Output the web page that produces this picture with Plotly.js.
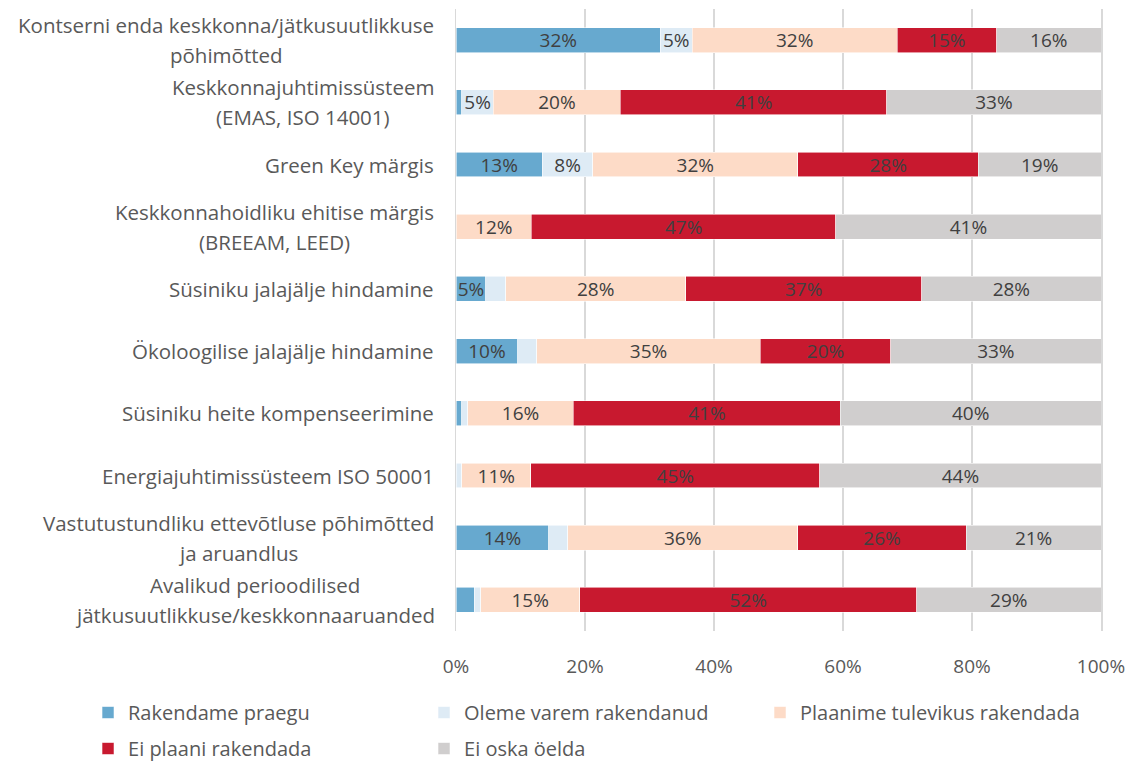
<!DOCTYPE html>
<html>
<head>
<meta charset="utf-8">
<script src="https://cdn.plot.ly/plotly-3.0.1.min.js"></script>
<style>html,body{margin:0;padding:0;background:#fff;}#chart{width:1137px;height:762px;}</style>
</head>
<body>
<div id="chart"></div>
<script>
const categories = [
  "Kontserni enda keskkonna/jätkusuutlikkuse<br>põhimõtted",
  "Keskkonnajuhtimissüsteem<br>(EMAS, ISO 14001)",
  "Green Key märgis",
  "Keskkonnahoidliku ehitise märgis<br>(BREEAM, LEED)",
  "Süsiniku jalajälje hindamine",
  "Ökoloogilise jalajälje hindamine",
  "Süsiniku heite kompenseerimine",
  "Energiajuhtimissüsteem ISO 50001",
  "Vastutustundliku ettevõtluse põhimõtted<br>ja aruandlus",
  "Avalikud perioodilised<br>jätkusuutlikkuse/keskkonnaaruanded"
];
const seriesNames = ["Rakendame praegu", "Oleme varem rakendanud", "Plaanime tulevikus rakendada", "Ei plaani rakendada", "Ei oska öelda"];
const rakendamePraegu   = [31.7, 0.9, 13.4, 0,    4.65, 9.6,  0.9,  0,    14.4, 2.8];
const olemeVaremRak     = [4.9,  4.9, 7.8,  0,    3.05, 2.9,  0.9,  0.9,  2.9,  1.0];
const plaanimeTulevikus = [31.8, 19.7, 31.8, 11.7, 27.9, 34.7, 16.4, 10.7, 35.7, 15.4];
const eiPlaani          = [15.4, 41.3, 28.0, 47.2, 36.6, 20.2, 41.4, 44.8, 26.1, 52.2];
const eiOska            = [16.2, 33.2, 19.0, 41.1, 27.8, 32.6, 40.4, 43.6, 20.9, 28.6];
const xTickVals = [0, 20, 40, 60, 80, 100];
const xTickText = xTickVals.map(v => v + "%");

const seriesValues = [rakendamePraegu, olemeVaremRak, plaanimeTulevikus, eiPlaani, eiOska];
const colors = ["#67A9CF", "#DEEBF5", "#FDDBC7", "#C8192F", "#D0CECE"];
const legendFor = ["legend", "legend", "legend", "legend2", "legend2"];
const FONT = "'Open Sans', 'Noto Sans', sans-serif";
const LABEL_SIZE = 20.5;

const traces = seriesValues.map((vals, i) => ({
  type: "bar",
  orientation: "h",
  name: seriesNames[i],
  legend: legendFor[i],
  y: categories,
  x: vals,
  text: vals.map(v => v >= 4 ? Math.round(v) + "%" : ""),
  textposition: "inside",
  insidetextanchor: "middle",
  textangle: 0,
  textfont: {family: FONT, size: 19, color: "#404040"},
  marker: {color: colors[i], line: {color: "rgba(255,255,255,0.7)", width: 0.8}},
  hoverinfo: "name+x"
}));

// category labels: each line as its own annotation, lines centred on each other, block right-aligned
const canvas = document.createElement("canvas");
const ctx = canvas.getContext("2d");
ctx.font = LABEL_SIZE + "px 'Open Sans'";
const annotations = [];
categories.forEach(cat => {
  const lines = cat.split("<br>");
  const n = lines.length;
  const blockW = Math.max(...lines.map(l => ctx.measureText(l).width));
  lines.forEach((ln, i) => {
    annotations.push({
      xref: "paper", yref: "y", x: 0, y: cat,
      xanchor: "center", yanchor: "middle",
      xshift: -22 - blockW / 2,
      yshift: ((n - 1) / 2 - i) * 30,
      text: ln, showarrow: false,
      font: {family: FONT, size: LABEL_SIZE, color: "#595959"}
    });
  });
});

const legendBase = {
  orientation: "h",
  x: -0.5705, xanchor: "left", yanchor: "top",
  entrywidth: 291, entrywidthmode: "pixels",
  font: {family: FONT, size: 20, color: "#595959"},
  traceorder: "normal", itemclick: false, itemdoubleclick: false,
  bgcolor: "rgba(0,0,0,0)"
};

const layout = {
  width: 1137, height: 762,
  margin: {l: 456, r: 36, t: 9, b: 131, autoexpand: false},
  paper_bgcolor: "#fff", plot_bgcolor: "#fff",
  barmode: "stack",
  bargap: 0.6,
  uniformtext: {mode: "show", minsize: 19},
  font: {family: FONT, color: "#595959"},
  xaxis: {
    range: [0, 100], tickvals: xTickVals, ticktext: xTickText,
    showgrid: true, gridcolor: "#D9D9D9", gridwidth: 1.5,
    zeroline: false, showline: false,
    ticks: "outside", ticklen: 18, tickcolor: "rgba(0,0,0,0)",
    tickfont: {family: FONT, size: 19, color: "#595959"},
    fixedrange: true
  },
  yaxis: {
    type: "category", range: [9.5, -0.5],
    showticklabels: false, showgrid: false, zeroline: false,
    showline: true, mirror: true, linecolor: "#D9D9D9", linewidth: 1.5,
    ticks: "", fixedrange: true
  },
  legend: Object.assign({}, legendBase, {y: -0.0997}),
  legend2: Object.assign({}, legendBase, {y: -0.1576}),
  annotations: annotations,
  showlegend: true
};

Plotly.newPlot("chart", traces, layout, {displayModeBar: false, staticPlot: true});
</script>
</body>
</html>
